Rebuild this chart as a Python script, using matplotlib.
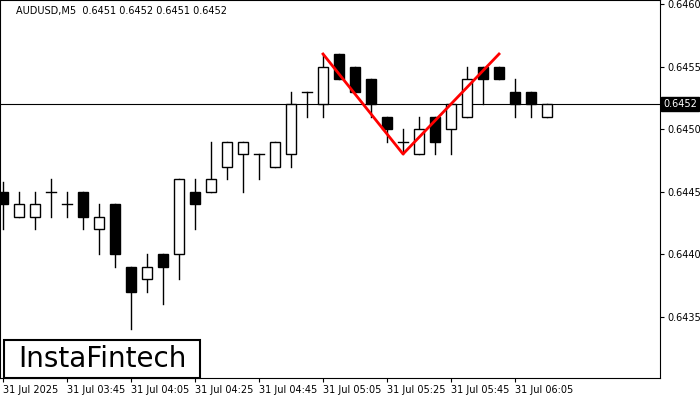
import matplotlib
matplotlib.use("Agg")
import matplotlib.pyplot as plt
from matplotlib.patches import Rectangle

opens  = [.6445,.6443,.6443,.6445,.6444,.6445,.6442,.6444,.6439,.6438,.6440,.6440,.6445,.6445,.6447,.6448,.6448,.6447,.6448,.6453,.6452,.6456,.6455,.6454,.6451,.6449,.6448,.6451,.6450,.6451,.6455,.6455,.6453,.6453,.6451]
closes = [.6444,.6444,.6444,.6445,.6444,.6443,.6443,.6440,.6437,.6439,.6439,.6446,.6444,.6446,.6449,.6449,.6448,.6449,.6452,.6453,.6455,.6454,.6453,.6452,.6450,.6449,.6450,.6449,.6452,.6454,.6454,.6454,.6452,.6452,.6452]
highs  = [.64458,.6445,.6445,.6446,.6445,.6445,.6444,.6444,.6439,.6440,.6440,.6446,.6446,.6449,.6449,.6449,.6448,.6449,.6453,.6453,.6456,.6456,.6455,.6454,.6451,.6450,.6451,.6451,.6452,.6455,.6455,.6455,.6454,.6453,.6452]
lows   = [.6442,.6443,.6442,.6443,.6443,.6442,.6440,.6439,.6434,.6437,.6436,.6438,.6442,.6445,.6446,.6445,.6446,.6447,.6447,.6451,.6451,.6454,.6453,.6451,.6449,.6448,.6448,.6448,.6448,.6451,.6452,.6454,.6451,.6451,.6451]
tick_labels = ["31 Jul 2025","31 Jul 03:45","31 Jul 04:05","31 Jul 04:25","31 Jul 04:45","31 Jul 05:05","31 Jul 05:25","31 Jul 05:45","31 Jul 06:05"]
y_ticks = [0.6435,0.6440,0.6445,0.6450,0.6455,0.6460]
pattern_idx = [20,25,31]
pattern_val = [0.6456,0.6448,0.6456]
current = 0.6452

fig = plt.figure(figsize=(7,4), dpi=100)
ax = fig.add_axes([0.0, 0.055, 660/700, 0.945])
ax.set_xlim(-0.1875, 41.06)
ax.set_ylim(0.643008, 0.646032)
w = 0.6
for i,(o,c,h,l) in enumerate(zip(opens,closes,highs,lows)):
    ax.plot([i,i],[l,h],color='black',lw=1,zorder=2)
    b, t = min(o,c), max(o,c)
    if t-b < 1e-6:
        ax.plot([i-w/2,i+w/2],[o,o],color='black',lw=1,zorder=3)
    else:
        ax.add_patch(Rectangle((i-w/2,b),w,t-b,facecolor='black' if c<o else 'white',edgecolor='black',lw=1,zorder=3))
ax.axhline(current,color='black',lw=0.8,zorder=1)
ax.plot(pattern_idx,pattern_val,color='red',lw=2,zorder=4)
ax.yaxis.tick_right()
ax.set_yticks(y_ticks)
ax.set_yticklabels([f"{v:.4f}" for v in y_ticks],fontsize=7)
ax.set_xticks(range(0,4*len(tick_labels),4))
ax.set_xticklabels(tick_labels,fontsize=7,ha='left')
ax.tick_params(length=3,pad=2)
ax.text(1.005,current,f"{current:.4f}",transform=ax.get_yaxis_transform(),fontsize=7,color='white',va='center',ha='left',
        bbox=dict(facecolor='black',edgecolor='black',pad=1.5))
ax.text(0.025,0.985,"AUDUSD,M5  0.6451 0.6452 0.6451 0.6452",transform=ax.transAxes,fontsize=7,va='top')
fig.patches.append(Rectangle((4/700,22/400),196/700,38/400,transform=fig.transFigure,facecolor='white',edgecolor='black',lw=1.5,zorder=10))
fig.text(102/700,1-359/400,"InstaFintech",fontsize=20,va='center',ha='center',zorder=11)
fig.savefig("out.png",dpi=100)
